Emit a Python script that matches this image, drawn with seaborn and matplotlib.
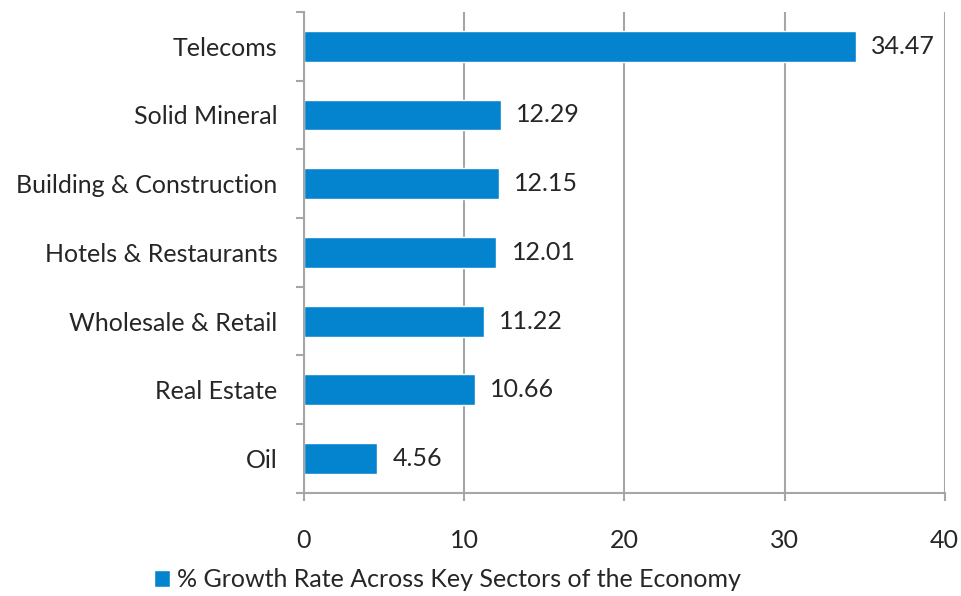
"""
Horizontal bar chart: % growth rate across key sectors of the economy.
"""

import matplotlib.pyplot as plt
import seaborn as sns
import pandas as pd
from matplotlib.patches import Patch

sectors = [
    "Telecoms",
    "Solid Mineral",
    "Building & Construction",
    "Hotels & Restaurants",
    "Wholesale & Retail",
    "Real Estate",
    "Oil",
]
growth = [34.47, 12.29, 12.15, 12.01, 11.22, 10.66, 4.56]
x_ticks = [0, 10, 20, 30, 40]
series_name = "% Growth Rate Across Key Sectors of the Economy"

BLUE = "#0484CE"
GRID = "#A6A6A6"
FS = 18

sns.set_style("white")
plt.rcParams["font.family"] = ["Lato", "DejaVu Sans"]

df = pd.DataFrame({"sector": sectors, "growth": growth})

fig = plt.figure(figsize=(9.62, 5.96), dpi=100)
ax = fig.add_axes([0.316, 0.173, 0.666, 0.807])

sns.barplot(data=df, x="growth", y="sector", orient="h", color=BLUE,
            saturation=1, width=0.45, ax=ax)

ax.set_xlim(0, 40)
ax.set_ylim(len(sectors) - 0.5, -0.5)
ax.set_xticks(x_ticks)
ax.set_xticklabels([str(t) for t in x_ticks])
ax.set_xlabel("")
ax.set_ylabel("")

# vertical gridlines
ax.grid(axis="x", color=GRID, linewidth=1.5)
ax.set_axisbelow(True)
for side in ["top", "right"]:
    ax.spines[side].set_visible(False)
for side in ["left", "bottom"]:
    ax.spines[side].set_color(GRID)
    ax.spines[side].set_linewidth(1.5)

ax.tick_params(axis="x", direction="out", length=6, width=1.5, color=GRID,
               pad=20, labelsize=FS, bottom=True)
ax.tick_params(axis="y", which="major", length=0, pad=19, labelsize=FS)
ax.set_yticks([i - 0.5 for i in range(len(sectors) + 1)], minor=True)
ax.tick_params(axis="y", which="minor", direction="out", length=6, width=1.5,
               color=GRID, left=True)

ax.bar_label(ax.containers[0], labels=[f"{v:.2f}" for v in growth],
             padding=11, fontsize=FS)

fig.legend(handles=[Patch(facecolor=BLUE, label=series_name)],
           loc="lower center", bbox_to_anchor=(0.465, -0.03), frameon=False,
           fontsize=FS, handlelength=0.65, handleheight=0.65, handletextpad=0.3)

fig.savefig("out.png", dpi=100)
